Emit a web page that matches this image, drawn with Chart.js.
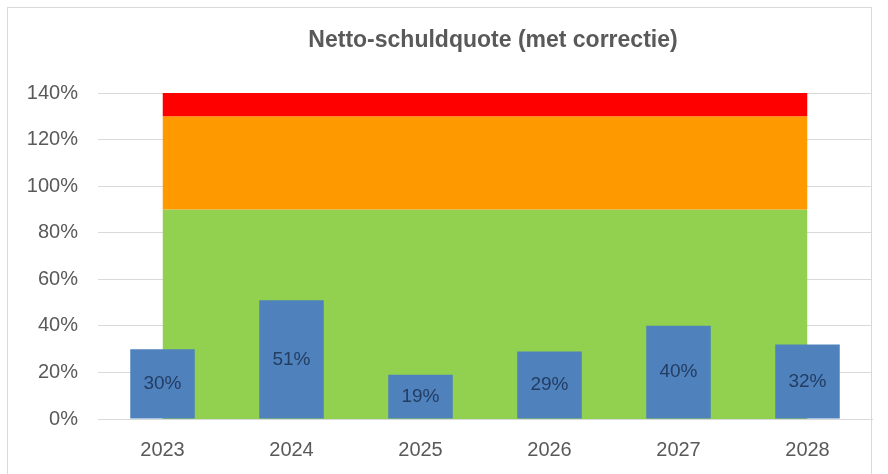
<!DOCTYPE html>
<html>
<head>
<meta charset="utf-8">
<script src="https://cdn.jsdelivr.net/npm/chart.js@4.4.1/dist/chart.umd.min.js"></script>
<style>
  html, body { margin: 0; padding: 0; background: #ffffff; }
  #wrap { position: relative; width: 888px; height: 474px; overflow: hidden; }
  #frame { position: absolute; left: 7px; top: 7px; width: 865px; height: 480px; border: 1px solid #d9d9d9; box-sizing: border-box; }
  #c { position: absolute; left: 0; top: 0; }
</style>
</head>
<body>
<div id="wrap">
  <div id="frame"></div>
  <canvas id="c" width="888" height="474"></canvas>
</div>
<script>
const titleText = "Netto-schuldquote (met correctie)";
const categories = ["2023", "2024", "2025", "2026", "2027", "2028"];
const quoteValues = [30, 51, 19, 29, 40, 32];
const greenUpper = [90, 90, 90, 90, 90, 90];
const orangeUpper = [130, 130, 130, 130, 130, 130];
const redUpper = [140, 140, 140, 140, 140, 140];
const yTicks = [0, 20, 40, 60, 80, 100, 120, 140];

const FONT = "'Liberation Sans', Arial, sans-serif";

const titlePlugin = {
  id: 'customTitle',
  afterDraw(chart) {
    const ctx = chart.ctx;
    ctx.save();
    ctx.font = "bold 23px " + FONT;
    ctx.fillStyle = "#595959";
    ctx.textAlign = "center";
    ctx.textBaseline = "middle";
    ctx.fillText(titleText, 493, 41);
    ctx.restore();
  }
};

const labelPlugin = {
  id: 'barLabels',
  afterDatasetsDraw(chart) {
    const meta = chart.getDatasetMeta(0);
    const ctx = chart.ctx;
    ctx.save();
    ctx.font = "19px " + FONT;
    ctx.fillStyle = "#233d63";
    ctx.textAlign = "center";
    ctx.textBaseline = "middle";
    meta.data.forEach((bar, i) => {
      const y = (bar.y + bar.base) / 2;
      ctx.fillText(quoteValues[i] + "%", bar.x, y);
    });
    ctx.restore();
  }
};

new Chart(document.getElementById('c'), {
  data: {
    labels: categories,
    datasets: [
      {
        type: 'bar',
        label: 'Netto-schuldquote',
        data: quoteValues,
        backgroundColor: '#4f81bd',
        barPercentage: 0.5,
        categoryPercentage: 1.0,
        order: 0
      },
      {
        type: 'line',
        label: 'groen',
        data: greenUpper,
        backgroundColor: '#92d050',
        borderWidth: 0,
        pointRadius: 0,
        fill: 'origin',
        tension: 0,
        order: 3
      },
      {
        type: 'line',
        label: 'oranje',
        data: orangeUpper,
        backgroundColor: '#ff9900',
        borderWidth: 0,
        pointRadius: 0,
        fill: '-1',
        tension: 0,
        order: 2
      },
      {
        type: 'line',
        label: 'rood',
        data: redUpper,
        backgroundColor: '#ff0000',
        borderWidth: 0,
        pointRadius: 0,
        fill: '-1',
        tension: 0,
        order: 1
      }
    ]
  },
  options: {
    responsive: false,
    animation: false,
    layout: { padding: { top: 93, right: 16, bottom: 0, left: 0 } },
    plugins: {
      legend: { display: false },
      tooltip: { enabled: false },
      title: { display: false }
    },
    scales: {
      x: {
        offset: true,
        afterFit(scale) { scale.height = 55; },
        grid: { display: false, offset: true },
        border: { display: true, color: '#d9d9d9' },
        ticks: { color: '#595959', font: { family: FONT, size: 20 }, padding: 11 }
      },
      y: {
        min: 0,
        max: 140,
        afterBuildTicks(scale) { scale.ticks = yTicks.map(v => ({ value: v })); },
        afterFit(scale) { scale.width = 98; },
        grid: { color: '#d9d9d9', drawTicks: false, lineWidth: 1 },
        border: { display: false },
        ticks: {
          color: '#595959',
          font: { family: FONT, size: 20 },
          padding: 20,
          callback: v => v + '%'
        }
      }
    }
  },
  plugins: [titlePlugin, labelPlugin]
});
</script>
</body>
</html>
